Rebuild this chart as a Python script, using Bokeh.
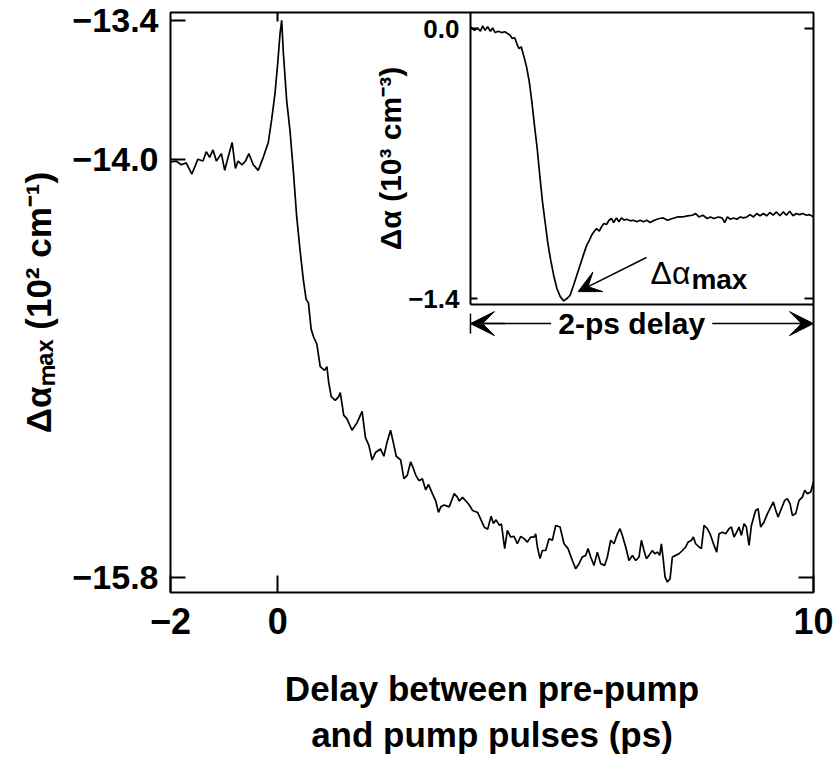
from math import pi
from bokeh.plotting import figure
from bokeh.models import (Range1d, LinearAxis, FixedTicker, Label, Arrow, VeeHead,
                          TeeHead, CustomJSTickFormatter)
from bokeh.embed import file_html
from bokeh.resources import INLINE

# ---------------- data ----------------
main_delay_ps = [
    -2.000, -1.894, -1.801, -1.707, -1.601, -1.488, -1.394, -1.332, -1.269, -1.207,
    -1.144, -1.050, -0.988, -0.925, -0.850, -0.788, -0.738, -0.663, -0.600, -0.538,
    -0.456, -0.363, -0.269, -0.175, -0.113, -0.050, 0.000, 0.044, 0.075, 0.106,
    0.169, 0.231, 0.294, 0.356, 0.419, 0.481, 0.531, 0.575, 0.625, 0.669,
    0.731, 0.794, 0.875, 0.919, 0.950, 1.000, 1.075, 1.138, 1.169, 1.232,
    1.294, 1.388, 1.482, 1.576, 1.638, 1.701, 1.763, 1.826, 1.919, 1.982,
    2.045, 2.107, 2.169, 2.213, 2.295, 2.357, 2.420, 2.482, 2.526, 2.576,
    2.638, 2.701, 2.763, 2.813, 2.888, 2.951, 3.001, 3.045, 3.107, 3.201,
    3.295, 3.357, 3.389, 3.451, 3.514, 3.576, 3.639, 3.732, 3.795, 3.858,
    3.920, 3.983, 4.026, 4.076, 4.139, 4.175, 4.237, 4.287, 4.349, 4.411,
    4.473, 4.536, 4.598, 4.660, 4.722, 4.784, 4.815, 4.847, 4.896, 4.940,
    5.002, 5.064, 5.127, 5.189, 5.270, 5.344, 5.419, 5.500, 5.562, 5.624,
    5.686, 5.749, 5.792, 5.842, 5.904, 5.966, 6.029, 6.103, 6.153, 6.215,
    6.277, 6.340, 6.389, 6.433, 6.495, 6.557, 6.620, 6.682, 6.744, 6.788,
    6.837, 6.881, 6.931, 6.993, 7.036, 7.086, 7.130, 7.161, 7.198, 7.229,
    7.273, 7.323, 7.366, 7.428, 7.490, 7.553, 7.615, 7.658, 7.721, 7.758,
    7.801, 7.864, 7.907, 7.957, 8.019, 8.069, 8.144, 8.193, 8.237, 8.299,
    8.361, 8.424, 8.467, 8.517, 8.567, 8.610, 8.654, 8.704, 8.747, 8.797,
    8.841, 8.921, 8.965, 9.015, 9.077, 9.139, 9.201, 9.251, 9.295, 9.338,
    9.388, 9.463, 9.512, 9.562, 9.606, 9.668, 9.730, 9.792, 9.836, 9.886,
    9.948, 10.000,
]
main_dalpha_max = [
    -14.010, -14.006, -14.022, -14.014, -14.062, -13.998, -14.006, -13.966, -13.990, -13.958,
    -14.006, -13.974, -14.046, -13.990, -13.926, -14.038, -14.006, -14.022, -14.006, -13.974,
    -14.022, -14.046, -13.990, -13.926, -13.829, -13.716, -13.587, -13.458, -13.400, -13.539,
    -13.748, -13.877, -14.054, -14.248, -14.393, -14.521, -14.602, -14.618, -14.731, -14.763,
    -14.795, -14.892, -14.908, -14.892, -14.956, -15.021, -15.037, -15.021, -15.004, -15.101,
    -15.117, -15.166, -15.133, -15.085, -15.198, -15.230, -15.294, -15.262, -15.246, -15.278,
    -15.214, -15.166, -15.230, -15.278, -15.294, -15.375, -15.359, -15.302, -15.327, -15.359,
    -15.383, -15.375, -15.423, -15.399, -15.439, -15.471, -15.520, -15.496, -15.488, -15.496,
    -15.439, -15.455, -15.471, -15.455, -15.471, -15.488, -15.512, -15.520, -15.552, -15.584,
    -15.592, -15.536, -15.568, -15.552, -15.576, -15.569, -15.676, -15.597, -15.626, -15.623,
    -15.655, -15.623, -15.633, -15.648, -15.626, -15.626, -15.612, -15.669, -15.719, -15.684,
    -15.684, -15.633, -15.640, -15.576, -15.583, -15.655, -15.676, -15.727, -15.763, -15.741,
    -15.712, -15.705, -15.676, -15.712, -15.748, -15.691, -15.741, -15.748, -15.712, -15.640,
    -15.655, -15.612, -15.590, -15.619, -15.669, -15.727, -15.705, -15.727, -15.712, -15.640,
    -15.684, -15.719, -15.705, -15.684, -15.698, -15.691, -15.705, -15.655, -15.727, -15.798,
    -15.820, -15.806, -15.712, -15.705, -15.698, -15.684, -15.669, -15.648, -15.640, -15.626,
    -15.655, -15.669, -15.676, -15.576, -15.590, -15.612, -15.662, -15.691, -15.612, -15.605,
    -15.612, -15.590, -15.583, -15.626, -15.605, -15.583, -15.619, -15.569, -15.583, -15.662,
    -15.576, -15.511, -15.504, -15.583, -15.561, -15.526, -15.497, -15.475, -15.511, -15.540,
    -15.511, -15.468, -15.461, -15.482, -15.533, -15.525, -15.468, -15.454, -15.425, -15.439,
    -15.432, -15.389,
]

inset_delay_ps = [
    0.000, 0.023, 0.042, 0.058, 0.071, 0.085, 0.100, 0.116, 0.129, 0.144,
    0.162, 0.181, 0.200, 0.216, 0.231, 0.244, 0.258, 0.270, 0.283, 0.296,
    0.312, 0.327, 0.343, 0.358, 0.373, 0.389, 0.404, 0.420, 0.435, 0.450,
    0.466, 0.485, 0.504, 0.524, 0.543, 0.562, 0.581, 0.601, 0.620, 0.639,
    0.658, 0.678, 0.693, 0.706, 0.720, 0.735, 0.751, 0.764, 0.778, 0.793,
    0.808, 0.822, 0.835, 0.851, 0.866, 0.880, 0.895, 0.912, 0.932, 0.951,
    0.970, 0.989, 1.009, 1.028, 1.047, 1.072, 1.101, 1.124, 1.149, 1.178,
    1.207, 1.236, 1.265, 1.294, 1.313, 1.332, 1.355, 1.380, 1.399, 1.419,
    1.444, 1.467, 1.482, 1.498, 1.515, 1.534, 1.553, 1.573, 1.592, 1.611,
    1.630, 1.650, 1.669, 1.688, 1.708, 1.727, 1.746, 1.765, 1.784, 1.804,
    1.823, 1.842, 1.861, 1.881, 1.900, 1.919, 1.938, 1.958, 1.977, 2.000,
]
inset_dalpha = [
    0.009, -0.009, 0.003, -0.014, 0.014, -0.009, 0.009, -0.014, 0.003, -0.021,
    -0.014, -0.021, -0.017, -0.026, -0.035, -0.052, -0.048, -0.078, -0.104, -0.095,
    -0.147, -0.199, -0.277, -0.380, -0.501, -0.622, -0.761, -0.899, -1.002, -1.106,
    -1.193, -1.279, -1.348, -1.391, -1.412, -1.400, -1.383, -1.331, -1.279, -1.227,
    -1.175, -1.123, -1.098, -1.072, -1.054, -1.037, -1.051, -1.028, -1.011, -1.016,
    -0.994, -0.985, -1.006, -0.982, -1.002, -0.982, -0.994, -0.989, -0.997, -0.994,
    -1.002, -0.994, -1.002, -0.994, -1.006, -0.994, -0.985, -0.982, -0.994, -0.985,
    -0.977, -0.977, -0.971, -0.968, -0.959, -0.977, -0.968, -0.985, -0.977, -0.985,
    -0.977, -0.982, -1.006, -0.977, -0.989, -0.982, -0.989, -0.977, -0.982, -0.977,
    -0.965, -0.977, -0.959, -0.971, -0.959, -0.971, -0.954, -0.968, -0.951, -0.971,
    -0.951, -0.968, -0.947, -0.971, -0.959, -0.965, -0.959, -0.968, -0.965, -0.977,
]

main_xticks = [-2, 0, 10]
main_top_ticks = [0]
main_yticks = [-13.4, -14.0, -15.8]
main_right_ticks = [-15.8]
inset_yticks = [0.0, -1.4]

main_x_range = (-2.0, 10.0)
main_y_range = (-15.865, -13.366)
inset_x_range = (-1.749, 2.0)       # inset 0..2 ps occupies the right part of the frame
inset_y_range = (-2.924, 0.083)
inset_box_bottom = -1.431
inset_x_span = (0.0, 2.0)

x_title = "Delay between pre-pump\nand pump pulses (ps)"
y_title = "Δαₘₐₓ (10² cm⁻¹)"
inset_y_title = "Δα (10³ cm⁻³)"
delay_text = "2-ps delay"

FONT = "Liberation Sans"

# ---------------- figure ----------------
p = figure(width=837, height=761, x_range=Range1d(*main_x_range),
           y_range=Range1d(*main_y_range), output_backend="svg",
           toolbar_location=None, min_border_left=170, min_border_right=24,
           min_border_top=12, min_border_bottom=169)
p.extra_x_ranges = {"inset_x": Range1d(*inset_x_range)}
p.extra_y_ranges = {"inset_y": Range1d(*inset_y_range)}
p.grid.visible = False
p.outline_line_color = "black"
p.outline_line_width = 2
p.outline_line_alpha = 1.0
p.background_fill_color = "white"
p.border_fill_color = "white"

p.line(main_delay_ps, main_dalpha_max, line_color="black", line_width=1.7)
p.line(inset_delay_ps, inset_dalpha, line_color="black", line_width=1.7,
       x_range_name="inset_x", y_range_name="inset_y")


def fmt(digits):
    return CustomJSTickFormatter(
        code="return (tick < 0 ? '\u2212' : '') + Math.abs(tick).toFixed(%d);" % digits)


def style(ax, size, tick_in):
    ax.major_label_text_font = FONT
    ax.major_label_text_font_style = "bold"
    ax.major_label_text_font_size = size
    ax.major_label_text_color = "black"
    ax.minor_tick_line_color = None
    ax.major_tick_line_color = "black"
    ax.major_tick_line_width = 2
    ax.major_tick_in = tick_in
    ax.major_tick_out = 0
    ax.axis_line_color = None


xa = p.xaxis[0]
xa.ticker = FixedTicker(ticks=main_xticks)
xa.formatter = fmt(0)
style(xa, "36px", 17)
xa.major_label_standoff = 15
xa.axis_label = x_title
xa.axis_label_text_font = FONT
xa.axis_label_text_font_style = "bold"
xa.axis_label_text_font_size = "35px"
xa.axis_label_text_color = "black"
xa.axis_label_standoff = 32

ya = p.yaxis[0]
ya.ticker = FixedTicker(ticks=main_yticks)
ya.formatter = fmt(1)
style(ya, "34px", 15)
ya.major_label_standoff = 12
ya.axis_label = y_title
ya.axis_label_text_font = FONT
ya.axis_label_text_font_style = "bold"
ya.axis_label_text_font_size = "35px"
ya.axis_label_text_color = "black"
ya.axis_label_standoff = 11

# mirrored ticks on the right and top edges of the main frame
ra = LinearAxis(ticker=FixedTicker(ticks=main_right_ticks), fixed_location=main_x_range[1])
style(ra, "10px", 15)
ra.major_label_text_color = None
p.add_layout(ra, "right")

ta = LinearAxis(ticker=FixedTicker(ticks=main_top_ticks), fixed_location=main_y_range[1])
style(ta, "10px", 9)
ta.major_label_text_color = None
p.add_layout(ta, "above")

# ---------------- inset ----------------
ia = LinearAxis(x_range_name="inset_x", y_range_name="inset_y", fixed_location=inset_x_span[0],
                bounds=(inset_box_bottom, inset_y_range[1]),
                ticker=FixedTicker(ticks=inset_yticks), formatter=fmt(1))
style(ia, "26px", 7)
ia.axis_line_color = "black"
ia.axis_line_width = 2
ia.major_label_standoff = 11
p.add_layout(ia, "left")

ib = LinearAxis(x_range_name="inset_x", y_range_name="inset_y", fixed_location=inset_box_bottom,
                bounds=inset_x_span, ticker=FixedTicker(ticks=[]))
style(ib, "10px", 0)
ib.axis_line_color = "black"
ib.axis_line_width = 2
ib.major_label_text_color = None
p.add_layout(ib, "below")

ir = LinearAxis(x_range_name="inset_x", y_range_name="inset_y", fixed_location=inset_x_span[1],
                bounds=(inset_box_bottom, inset_y_range[1]),
                ticker=FixedTicker(ticks=inset_yticks))
style(ir, "10px", 9)
ir.major_label_text_color = None
p.add_layout(ir, "right")

inset_mid = (inset_box_bottom + inset_y_range[1]) / 2
p.add_layout(Label(x=inset_x_span[0], y=inset_mid, x_range_name="inset_x", y_range_name="inset_y",
                   text=inset_y_title, angle=pi / 2, text_align="center", text_baseline="bottom",
                   x_offset=-63, text_font=FONT, text_font_style="bold",
                   text_font_size="30px", text_color="black"))

# delta-alpha-max annotation
p.add_layout(Arrow(x_start=1.026, y_start=-1.187, x_end=0.628, y_end=-1.364,
                   x_range_name="inset_x", y_range_name="inset_y", line_width=1.5,
                   end=VeeHead(size=22, fill_color="black", line_color="black")))
p.add_layout(Label(x=1.050, y=-1.270, x_range_name="inset_x", y_range_name="inset_y",
                   text="Δα", text_baseline="alphabetic", text_font=FONT,
                   text_font_style="normal", text_font_size="32px", text_color="black"))
p.add_layout(Label(x=1.288, y=-1.301, x_range_name="inset_x", y_range_name="inset_y",
                   text="max", text_baseline="alphabetic", text_font=FONT,
                   text_font_style="bold", text_font_size="28px", text_color="black"))

# "2-ps delay" span marker under the inset
delay_y = -1.530
p.add_layout(Label(x=0.94, y=delay_y, x_range_name="inset_x", y_range_name="inset_y",
                   text=delay_text, text_align="center", text_baseline="middle",
                   text_font=FONT, text_font_style="bold", text_font_size="30px",
                   text_color="black"))
p.add_layout(Arrow(x_start=0.47, y_start=delay_y, x_end=inset_x_span[0], y_end=delay_y,
                   x_range_name="inset_x", y_range_name="inset_y", line_width=1.5,
                   end=VeeHead(size=24, fill_color="black", line_color="black")))
p.add_layout(Arrow(x_start=inset_x_span[0], y_start=delay_y, x_end=0.2, y_end=delay_y,
                   x_range_name="inset_x", y_range_name="inset_y", line_width=1.5,
                   start=TeeHead(size=20, line_width=1.5, line_color="black"), end=None))
p.add_layout(Arrow(x_start=1.41, y_start=delay_y, x_end=inset_x_span[1], y_end=delay_y,
                   x_range_name="inset_x", y_range_name="inset_y", line_width=1.5,
                   end=VeeHead(size=24, fill_color="black", line_color="black")))

open("out.html", "w", encoding="utf-8").write(file_html(p, INLINE))
